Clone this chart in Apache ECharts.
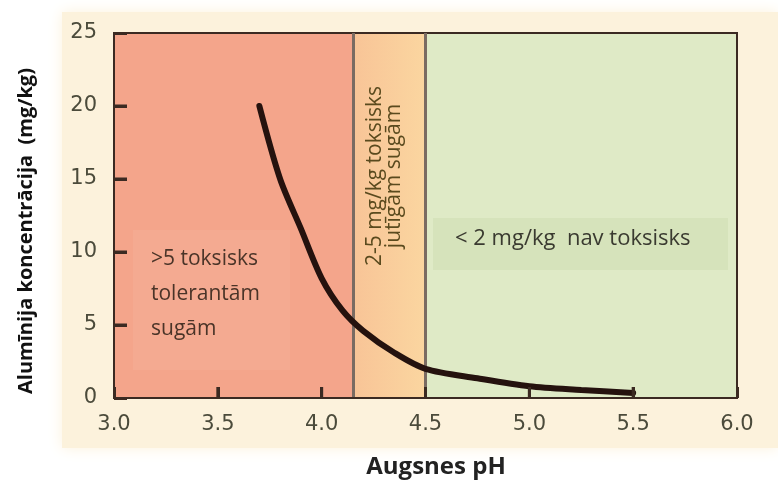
<!DOCTYPE html>
<html>
<head>
<meta charset="utf-8">
<script src="https://cdn.jsdelivr.net/npm/echarts@6/dist/echarts.min.js"></script>
<style>
  html, body { margin: 0; padding: 0; background: #ffffff; }
  #chart { width: 778px; height: 482px; }
</style>
</head>
<body>
<div id="chart"></div>
<script>
// pH values and aluminium concentration (mg/kg)
const phValues = [3.7, 3.8, 3.9, 4.0, 4.1, 4.2, 4.35, 4.5, 4.75, 5.0, 5.25, 5.5];
const alValues = [20, 15, 11.6, 8.2, 6.0, 4.6, 3.1, 2.0, 1.35, 0.8, 0.55, 0.35];
// zone borders on the pH axis
const zoneLimits = [3.0, 4.15, 4.5, 6.0];
const zoneLines = [4.15, 4.5];
// inner tick marks
const xTicks = [3.5, 4.0, 5.0, 5.5];
const yTicks = [5, 10, 15, 20];

const chart = echarts.init(document.getElementById('chart'));

const gridLeft = 114, gridTop = 33;
const plotW = 778 - 114 - 41;
const plotH = 482 - 33 - 84;
const xMin = 3, xMax = 6, yMin = 0, yMax = 25;
const xPix = v => gridLeft + (v - xMin) / (xMax - xMin) * plotW;
const yPix = v => gridTop + plotH - (v - yMin) / (yMax - yMin) * plotH;

const tickStyle = { stroke: '#3b2a22', lineWidth: 3 };
const tickGraphics = [];
xTicks.forEach(v => tickGraphics.push({ type: 'line', z: 50, silent: true,
  shape: { x1: xPix(v), y1: yPix(0), x2: xPix(v), y2: yPix(0) - 11 }, style: tickStyle }));
yTicks.forEach(v => tickGraphics.push({ type: 'line', z: 50, silent: true,
  shape: { x1: xPix(3), y1: yPix(v), x2: xPix(3) + 13, y2: yPix(v) }, style: tickStyle }));

const option = {
  animation: false,
  grid: { left: gridLeft, right: 41, top: gridTop, bottom: 84, show: true, borderColor: '#3b2a22', borderWidth: 2, z: 5 },
  graphic: [
    // cream backdrop behind the plot
    { type: 'rect', z: -10, shape: { x: 62, y: 12, width: 716, height: 436 },
      style: { fill: '#FCF2DC', shadowBlur: 14, shadowColor: '#FCF2DC' } },
    // axis titles
    { type: 'text', z: 11, x: 26, y: 231, rotation: Math.PI / 2,
      style: { text: 'Alumīnija koncentrācija  (mg/kg)', font: 'bold 20px "Open Sans"', fill: '#111111', align: 'center', verticalAlign: 'middle' } },
    { type: 'text', z: 11, x: 436, y: 467,
      style: { text: 'Augsnes pH', font: 'bold 24px "Open Sans"', fill: '#222222', align: 'center', verticalAlign: 'middle' } },
    // text boxes
    { type: 'rect', z: 10, shape: { x: 133, y: 230, width: 157, height: 140 }, style: { fill: 'rgba(255,255,255,0.06)' } },
    { type: 'text', z: 11, left: 151, top: 242, style: { text: '>5 toksisks\ntolerantām\nsugām', font: '21px "Open Sans"', fill: '#4a3428', lineHeight: 35 } },
    { type: 'rect', z: 10, shape: { x: 433, y: 218, width: 295, height: 52 }, style: { fill: '#D6E3BB' } },
    { type: 'text', z: 11, left: 455, top: 228, style: { text: '< 2 mg/kg  nav toksisks', font: '22px "Open Sans"', fill: '#3a3a30' } },
    { type: 'text', z: 11, x: 385, y: 176, rotation: Math.PI / 2,
      style: { text: '2-5 mg/kg toksisks\njutīgām sugām', font: '21px "Open Sans"', fill: '#5a4a1e', lineHeight: 19, align: 'center', verticalAlign: 'middle' } }
  ].concat(tickGraphics),
  xAxis: {
    type: 'value', min: xMin, max: xMax, interval: 0.5, z: 10,
    axisLine: { show: true, lineStyle: { color: '#3b2a22', width: 2 } },
    axisTick: { show: true, inside: true, length: 11, lineStyle: { color: '#3b2a22', width: 3 } },
    axisLabel: { fontFamily: 'DejaVu Sans', fontSize: 21, color: '#4b4b3b', margin: 16, formatter: v => v.toFixed(1) },
    splitLine: { show: false }
  },
  yAxis: {
    type: 'value', min: yMin, max: yMax, interval: 5, z: 10,
    axisLine: { show: true, lineStyle: { color: '#3b2a22', width: 2 } },
    axisTick: { show: true, inside: true, length: 13, lineStyle: { color: '#3b2a22', width: 3 } },
    axisLabel: { fontFamily: 'DejaVu Sans', fontSize: 21, color: '#4b4b3b', margin: 17 },
    splitLine: { show: false }
  },
  series: [
    {
      // zone backgrounds and borders
      type: 'line',
      data: [],
      z: -1,
      markArea: {
        silent: true,
        data: [
          [{ xAxis: zoneLimits[0], itemStyle: { color: '#F4A58B' } }, { xAxis: zoneLimits[1] }],
          [{ xAxis: zoneLimits[1], itemStyle: { color: new echarts.graphic.LinearGradient(0, 0, 1, 0, [
            { offset: 0, color: '#F8C497' }, { offset: 1, color: '#FBD6A0' }]) } }, { xAxis: zoneLimits[2] }],
          [{ xAxis: zoneLimits[2], itemStyle: { color: '#DFEAC6' } }, { xAxis: zoneLimits[3] }]
        ]
      },
      markLine: {
        silent: true,
        symbol: 'none',
        label: { show: false },
        lineStyle: { color: '#7a6b62', width: 3, type: 'solid' },
        data: zoneLines.map(v => ({ xAxis: v }))
      }
    },
    {
      type: 'line',
      data: phValues.map((x, i) => [x, alValues[i]]),
      smooth: 0.3,
      symbol: 'none',
      z: 8,
      lineStyle: { color: '#25120e', width: 6, cap: 'round' }
    }
  ]
};

chart.setOption(option);
</script>
</body>
</html>
